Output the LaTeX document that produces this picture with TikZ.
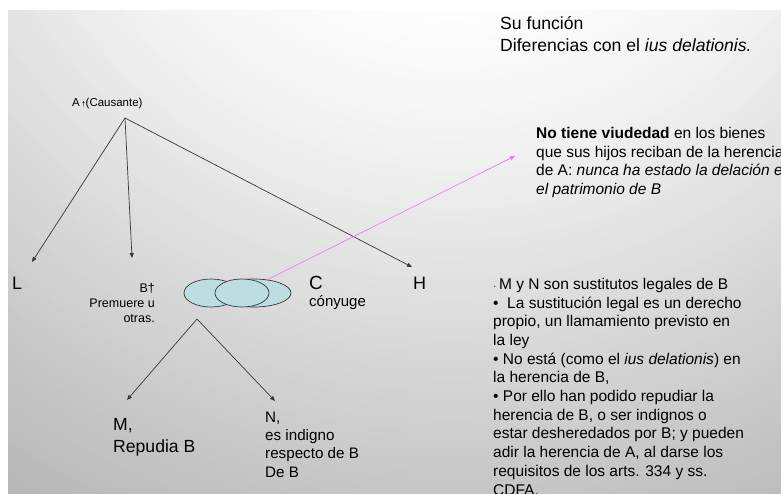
\documentclass[tikz,border=0pt]{standalone}
\usepackage{fontspec}
\setmainfont{Liberation Sans}
\usetikzlibrary{arrows.meta,shapes.geometric}
\definecolor{lineC}{RGB}{55,55,55}
\definecolor{pinkC}{RGB}{232,125,240}
\definecolor{bubble}{RGB}{188,221,226}
\newcommand{\fs}[2]{\fontsize{#1pt}{#2pt}\selectfont}
\begin{document}
\begin{tikzpicture}[x=1pt,y=-1pt,
  txt/.style={inner sep=0pt, anchor=base west, align=left},
  link/.style={draw=lineC, line width=0.7pt, -{Triangle[length=5pt,width=4pt]}},
  pinklink/.style={draw=pinkC, line width=0.7pt, -{Triangle[length=5pt,width=4pt]}},
  bub/.style={ellipse, draw=lineC, line width=0.7pt, fill=bubble, inner sep=0pt, minimum height=28pt}]
\useasboundingbox (0,0) rectangle (781,493);
\fill[white] (0,0) rectangle (781,493);
\begin{scope}
  \clip (8,10) rectangle (781,493);
  \foreach \r in {1000,990,...,240}{
    \pgfmathsetmacro{\g}{\r<400 ? 1-(\r-240)/160*0.05 : 0.95-(\r-400)/460*0.23}
    \definecolor{ringC}{gray}{\g}
    \fill[ringC] (450,-250) circle (\r);
  }
\end{scope}

% texts (base anchor = baseline of the last line)
\node[txt, font=\fs{17.6}{22}] (title) at (500,51) {Su función\\Diferencias con el \textit{ius delationis.}};
\node[txt, font=\fs{15.5}{18.7}] (viud) at (536,194.6) {\textbf{No tiene viudedad} en los bienes\\que sus hijos reciban de la herencia\\de A: \textit{nunca ha estado la delación en}\\\textit{el patrimonio de B}};
\node[txt, font=\fs{15.5}{18.7}] (sust) at (493,495) {{\fs{10}{10}·}\,M y N son sustitutos legales de B\\•\ \ La sustitución legal es un derecho\\propio, un llamamiento previsto en\\la ley\\• No está (como el \textit{ius delationis}) en\\la herencia de B,\\• Por ello han podido repudiar la\\herencia de B, o ser indignos o\\estar desheredados por B; y pueden\\adir la herencia de A, al darse los\\requisitos de los arts. 334 y ss.\\CDFA.};

\node[txt, font=\fs{11.5}{13}] (A) at (72,106) {A\,{\fs{7}{7}†}(Causante)};
\node[txt, font=\fs{18}{20}] (L) at (12,289.5) {L};
\node[txt, font=\fs{18}{20}] (H) at (413,289) {H};
\node[txt, font=\fs{19}{20}] (C) at (309,289) {C};
\node[txt, font=\fs{15}{18}] (cony) at (309,306) {cónyuge};
\node[inner sep=0pt, anchor=base east, align=right, font=\fs{12.5}{15}] (B) at (155,322) {B†\\Premuere u\\otras.};
\node[txt, font=\fs{17.6}{22}] (M) at (113,452) {M,\\Repudia B};
\node[txt, font=\fs{15.2}{18.3}] (N) at (265,477) {N,\\es indigno\\respecto de B\\De B};

% bubbles
\node[bub, minimum width=54pt] (e1) at (211,293) {};
\node[bub, minimum width=74pt] (e3) at (254,293) {};
\node[bub, minimum width=54pt] (e2) at (242,293) {};

% coordinates
\coordinate (aroot) at (125,118);
\coordinate (tipL) at (32,262);
\coordinate (tipB) at (132,258);
\coordinate (tipH) at (412,267);
\coordinate (broot) at (197,319);
\coordinate (tipM) at (127,400);
\coordinate (tipN) at (275,401);
\coordinate (tipV) at (515,156);

\draw[link] (aroot) -- (tipL);
\draw[link] (aroot) -- (tipB);
\draw[link] (aroot) -- (tipH);
\draw[link] (broot) -- (tipM);
\draw[link] (broot) -- (tipN);
\draw[pinklink] (e3.45) -- (tipV);
\end{tikzpicture}
\end{document}
